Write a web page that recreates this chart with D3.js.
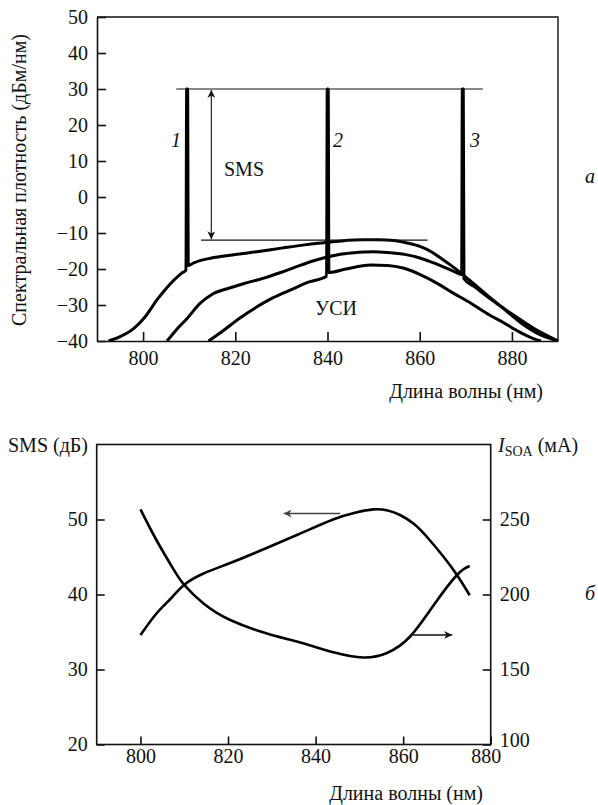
<!DOCTYPE html>
<html><head><meta charset="utf-8">
<script src="https://cdnjs.cloudflare.com/ajax/libs/d3/7.8.5/d3.min.js"></script>
<style>
body{margin:0;background:#fff;}
svg text{font-family:"Liberation Serif","DejaVu Serif","Noto Serif",serif !important;fill:#111;}
</style></head>
<body><svg id="c" width="598" height="805" font-family="Liberation Serif, DejaVu Serif, serif"></svg>
<script>
// ---------- Data: panel a ----------
const topXTicks = [800, 820, 840, 860, 880];
const topYTicks = [-40, -30, -20, -10, 0, 10, 20, 30, 40, 50];
// spectrum 1 (lasing line at ~809.5 nm)
const spec1 = [[792.5,-40],[795,-38.8],[798,-36.5],[800.5,-33.2],[803,-28.6],[805,-25.4],[806.6,-23.2],[808.3,-21.2],[809.3,-20.3],
  [809.45,30],[809.65,30],[809.8,-19],[811,-18.3],[812.5,-17.6],[814.6,-17],[820,-16],[824.7,-15.2],[830,-14.2],[835,-13.3],
  [839.2,-12.7],[843,-12.2],[847.9,-11.9],[851,-11.9],[854.4,-12.1],[857,-12.7],[860.2,-13.8],[862.5,-15.2],[864.6,-17],
  [866.8,-19],[869,-21.2],[871,-23.3],[874.7,-27.3],[878,-30.8],[882,-35],[886,-38.2],[890,-40]];
// spectrum 3 (lasing line at ~869.3 nm)
const spec3 = [[805.2,-40],[807,-37.2],[809.5,-33.8],[812.4,-29.5],[815,-27],[818.9,-25.2],[822,-24],[826,-22.6],[830,-20.9],
  [833,-19.5],[837,-17.7],[842,-16.1],[845.7,-15.5],[850,-15.2],[853,-15.4],[857,-16],[860.2,-17],[864,-18.8],[867.5,-20.7],
  [869.1,-21.5],[869.25,30],[869.45,30],[869.6,-22.7],[872,-25],[875,-28],[880,-32.5],[885,-36.7],[890,-40]];
// spectrum 2 (lasing line at ~840 nm)
const spec2 = [[814.2,-40],[817.5,-37],[821,-33.6],[824.7,-30.5],[828,-28.1],[832,-25.8],[836,-23.6],[839.8,-22],
  [839.95,30],[840.15,30],[840.3,-21],[844,-20],[849.3,-18.9],[853,-19],[856.6,-19.8],[860,-21.5],[863.8,-24],[867,-26.5],
  [871.1,-29.5],[874.5,-32.3],[878.3,-35],[881.5,-37.4],[884.8,-39.4],[886.3,-40]];
const levelTop = 30, levelAse = -12;
const lineTopRange = [807.2, 873.7];
const lineAseRange = [812.6, 861.7];
const smsArrowX = 814.8;

// ---------- Data: panel б ----------
const botXTicks = [800, 820, 840, 860, 880];
const smsTicks = [20, 30, 40, 50];
const isoaTicks = [100, 150, 200, 250];
const smsWl  = [800, 803.7, 807, 810, 814.4, 820.5, 828, 836, 844, 849, 853.2, 856.5, 859.3, 862.5, 865.4, 869, 872.3, 875.2];
const smsVal = [34.6, 37.5, 39.5, 41.3, 42.8, 44.2, 46.0, 48.0, 50.0, 50.9, 51.35, 51.2, 50.6, 49.4, 47.7, 45.2, 42.6, 39.9];
const isoaWl  = [800, 803.7, 807.5, 810, 814.4, 820.5, 828.9, 836.5, 844.1, 850.9, 856.3, 861.6, 867, 872.3, 875.2];
const isoaVal = [256.8, 236, 217, 206.4, 194, 183, 174, 168, 161.5, 158, 161, 172, 193, 213, 219];
const smsArrow = {y: 50.8, from: 845.6, to: 832.7};
const isoaArrow = {y: 173, from: 862, to: 871.2};

const FONT = '"Liberation Serif","DejaVu Serif","Noto Serif",serif';
const svg = d3.select("#c");
const defs = svg.append("defs");
function marker(id, color){
  defs.append("marker").attr("id", id).attr("viewBox","0 0 10 10").attr("refX",10).attr("refY",5)
    .attr("markerWidth",10).attr("markerHeight",8).attr("markerUnits","userSpaceOnUse").attr("orient","auto-start-reverse")
    .append("path").attr("d","M0,0 L10,5 L0,10 L3,5 Z").attr("fill",color);
}
marker("arrK", "#111");
marker("arrG", "#444");

const FS = 20;
function txt(g){ return g.append("text").style("font-family", FONT).style("font-size", FS+"px").attr("fill","#111"); }

// ================= Panel a =================
const xA = d3.scaleLinear().domain([790, 890]).range([97, 558]);
const yA = d3.scaleLinear().domain([-40, 50]).range([341, 17]);
const gA = svg.append("g");

function styleAxis(g){
  g.attr("font-family", null);
  g.selectAll("path.domain").attr("stroke","#111").attr("stroke-width",1.6);
  g.selectAll(".tick line").attr("stroke","#111").attr("stroke-width",1.6);
  g.selectAll(".tick text").style("font-size", FS+"px").style("font-family", FONT).attr("fill","#111");
}
const fmt = d => (d < 0 ? "\u2212" + Math.abs(d) : String(d));

gA.append("g").attr("transform","translate(0,341)")
  .call(d3.axisBottom(xA).tickValues(topXTicks).tickSizeInner(-9).tickSizeOuter(0).tickPadding(10))
  .call(styleAxis);
gA.append("g").attr("transform","translate(97,0)")
  .call(d3.axisLeft(yA).tickValues(topYTicks).tickSizeInner(-9).tickSizeOuter(0).tickPadding(9).tickFormat(fmt))
  .call(styleAxis);
gA.append("path").attr("d", `M97,${yA(50)}H${xA(890)}V${yA(-40)}`).attr("fill","none").attr("stroke","#111").attr("stroke-width",1.4);

const lineA = d3.line().x(d => xA(d[0])).y(d => yA(d[1])).curve(d3.curveMonotoneX);
gA.append("clipPath").attr("id","clipA").append("rect").attr("x",97).attr("y",17).attr("width",461).attr("height",324);
[spec1, spec3, spec2].forEach(s => {
  gA.append("path").attr("d", lineA(s)).attr("fill","none").attr("stroke","#000")
    .attr("stroke-width",3).attr("stroke-linejoin","round").attr("clip-path","url(#clipA)");
});
gA.append("line").attr("x1",xA(lineTopRange[0])).attr("x2",xA(lineTopRange[1]))
  .attr("y1",yA(levelTop)).attr("y2",yA(levelTop)).attr("stroke","#111").attr("stroke-width",1.2);
gA.append("line").attr("x1",xA(lineAseRange[0])).attr("x2",xA(lineAseRange[1]))
  .attr("y1",yA(levelAse)).attr("y2",yA(levelAse)).attr("stroke","#111").attr("stroke-width",1.2);
gA.append("line").attr("x1",xA(smsArrowX)).attr("x2",xA(smsArrowX))
  .attr("y1",yA(levelTop)+1).attr("y2",yA(levelAse)-1).attr("stroke","#222").attr("stroke-width",1.2)
  .attr("marker-start","url(#arrK)").attr("marker-end","url(#arrK)");

txt(gA).attr("transform","translate(26,180) rotate(-90)").attr("text-anchor","middle").text("Спектральная плотность (дБм/нм)");
txt(gA).attr("x",543).attr("y",398).attr("text-anchor","end").text("Длина волны (нм)");
txt(gA).attr("x",244).attr("y",176).attr("text-anchor","middle").text("SMS");
txt(gA).attr("x",336).attr("y",315).attr("text-anchor","middle").text("УСИ");
[["1",176],["2",338],["3",475]].forEach(([t,x]) => {
  txt(gA).attr("x",x).attr("y",147).attr("text-anchor","middle").style("font-style","italic").text(t);
});
txt(gA).attr("x",590).attr("y",183).attr("text-anchor","middle").style("font-style","italic").text("а");

// ================= Panel б =================
const xB = d3.scaleLinear().domain([790, 880]).range([96.7, 490.7]);
const yB = d3.scaleLinear().domain([20, 60]).range([744.5, 444.5]);
const yB2 = d3.scaleLinear().domain([100, 300]).range([744.5, 444.5]);
const gB = svg.append("g");
const xAxB = gB.append("g").attr("transform","translate(0,744.5)")
  .call(d3.axisBottom(xB).tickValues(botXTicks).tickSizeInner(-8).tickSizeOuter(0).tickPadding(4))
  .call(styleAxis);
xAxB.selectAll(".tick text").filter(d => d === 880).attr("dx", -5);
gB.append("g").attr("transform","translate(96.7,0)")
  .call(d3.axisLeft(yB).tickValues(smsTicks).tickSizeInner(-8).tickSizeOuter(0).tickPadding(9))
  .call(styleAxis);
const yAxR = gB.append("g").attr("transform","translate(490.7,0)")
  .call(d3.axisRight(yB2).tickValues(isoaTicks).tickSizeInner(-8).tickSizeOuter(0).tickPadding(9))
  .call(styleAxis);
yAxR.selectAll(".tick text").filter(d => d === 100).attr("dy", "0.1em");
gB.selectAll("path.domain").remove();
gB.append("rect").attr("x",96.7).attr("y",444.5).attr("width",394).attr("height",300)
  .attr("fill","none").attr("stroke","#111").attr("stroke-width",1.6);

const lineB = d3.line().curve(d3.curveNatural);
gB.append("path").attr("d", lineB(smsWl.map((w,i) => [xB(w), yB(smsVal[i])])))
  .attr("fill","none").attr("stroke","#000").attr("stroke-width",2.6);
gB.append("path").attr("d", lineB(isoaWl.map((w,i) => [xB(w), yB2(isoaVal[i])])))
  .attr("fill","none").attr("stroke","#000").attr("stroke-width",2.6);

gB.append("line").attr("x1",xB(smsArrow.from)).attr("x2",xB(smsArrow.to))
  .attr("y1",yB(smsArrow.y)).attr("y2",yB(smsArrow.y)).attr("stroke","#444").attr("stroke-width",1.3)
  .attr("marker-end","url(#arrG)");
gB.append("line").attr("x1",xB(isoaArrow.from)).attr("x2",xB(isoaArrow.to))
  .attr("y1",yB2(isoaArrow.y)).attr("y2",yB2(isoaArrow.y)).attr("stroke","#111").attr("stroke-width",1.3)
  .attr("marker-end","url(#arrK)");

txt(gB).attr("x",88).attr("y",452).attr("text-anchor","end").text("SMS (дБ)");
const isoaLbl = txt(gB).attr("x",498).attr("y",452);
isoaLbl.append("tspan").style("font-style","italic").text("I");
isoaLbl.append("tspan").attr("dy",4).style("font-size","14px").text("SOA");
isoaLbl.append("tspan").attr("dy",-4).text(" (мА)");
txt(gB).attr("x",483).attr("y",800).attr("text-anchor","end").text("Длина волны (нм)");
txt(gB).attr("x",590).attr("y",600).attr("text-anchor","middle").style("font-style","italic").text("б");
</script></body></html>
